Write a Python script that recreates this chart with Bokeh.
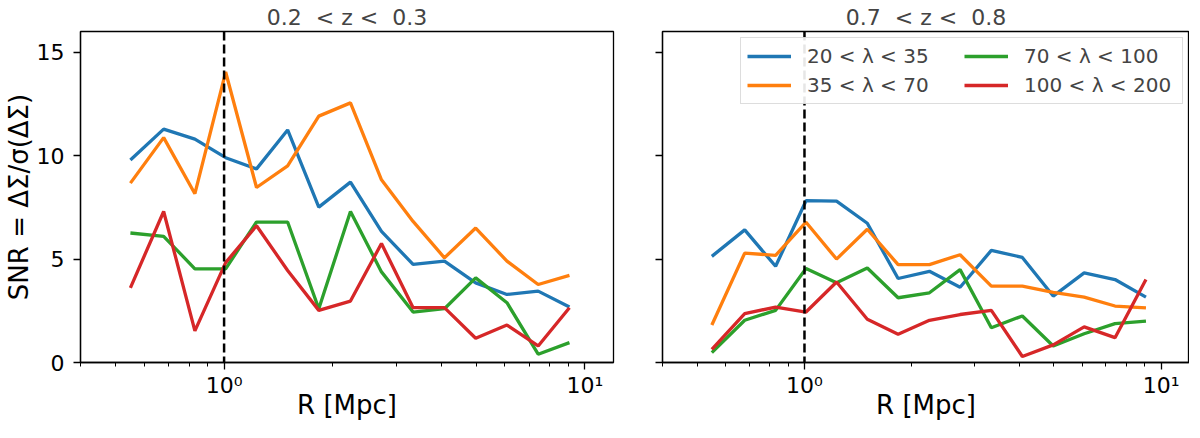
from bokeh.plotting import figure
from bokeh.layouts import row
from bokeh.models import Range1d, FixedTicker, Span, Legend, LegendItem
from bokeh.embed import file_html
from bokeh.resources import INLINE

# radial bins [Mpc]
R = [0.55, 0.68, 0.83, 1.01, 1.23, 1.50, 1.83, 2.24, 2.73, 3.34, 4.08, 4.98, 6.08, 7.42, 9.06]

# 0.2 < z < 0.3
low_l1 = [9.79, 11.28, 10.80, 9.90, 9.36, 11.24, 7.51, 8.72, 6.34, 4.74, 4.90, 3.85, 3.29, 3.45, 2.68]
low_l2 = [8.67, 10.87, 8.16, 14.04, 8.46, 9.50, 11.91, 12.55, 8.83, 6.82, 5.06, 6.50, 4.90, 3.77, 4.21]
low_l3 = [6.26, 6.10, 4.53, 4.53, 6.79, 6.79, 2.60, 7.30, 4.38, 2.44, 2.60, 4.09, 2.89, 0.40, 0.96]
low_l4 = [3.61, 7.30, 1.53, 4.83, 6.61, 4.45, 2.52, 2.97, 5.75, 2.65, 2.65, 1.17, 1.81, 0.80, 2.65]

# 0.7 < z < 0.8
high_l1 = [5.13, 6.41, 4.65, 7.82, 7.80, 6.73, 4.06, 4.41, 3.64, 5.42, 5.08, 3.21, 4.33, 4.01, 3.16]
high_l2 = [1.81, 5.29, 5.18, 6.78, 5.00, 6.44, 4.73, 4.73, 5.21, 3.69, 3.69, 3.39, 3.16, 2.73, 2.64]
high_l3 = [0.48, 2.04, 2.52, 4.54, 3.85, 4.57, 3.13, 3.37, 4.49, 1.68, 2.25, 0.80, 1.39, 1.88, 2.00]
high_l4 = [0.64, 2.36, 2.68, 2.44, 3.89, 2.09, 1.37, 2.04, 2.32, 2.52, 0.29, 0.85, 1.72, 1.20, 4.01]

labels = ["20 < λ < 35", "35 < λ < 70", "70 < λ < 100", "100 < λ < 200"]
colors = ["#1f77b4", "#ff7f0e", "#2ca02c", "#d62728"]
titles = ["0.2\u00a0\u00a0<\u00a0z\u00a0<\u00a0\u00a00.3", "0.7\u00a0\u00a0<\u00a0z\u00a0<\u00a0\u00a00.8"]

x_major = [1, 10]
x_minor = [0.4, 0.5, 0.6, 0.7, 0.8, 0.9, 2, 3, 4, 5, 6, 7, 8, 9]
y_major = [0, 5, 10, 15]

FONT = "DejaVu Sans"


def make_panel(title, series, frame_w, border_left, border_right, show_ylabels):
    p = figure(frame_width=frame_w, height=422, x_axis_type="log",
               x_range=Range1d(0.4, 12), y_range=Range1d(0, 16),
               title=title, toolbar_location=None, output_backend="svg",
               min_border_left=border_left, min_border_right=border_right,
               min_border_top=0, min_border_bottom=0)
    p.title.text_font = FONT
    p.title.text_font_size = "22px"
    p.title.text_font_style = "normal"
    p.title.align = "center"
    p.title.standoff = 4
    p.grid.visible = False
    p.outline_line_color = "black"
    p.outline_line_width = 1.3
    p.outline_line_alpha = 1.0

    p.xaxis.ticker = FixedTicker(ticks=x_major, minor_ticks=x_minor)
    p.xaxis.major_label_overrides = {1: "10⁰", 10: "10¹"}
    p.yaxis.ticker = FixedTicker(ticks=y_major)
    if not show_ylabels:
        p.yaxis.major_label_overrides = {v: "" for v in y_major}
    for ax in (p.xaxis, p.yaxis):
        ax.axis_line_color = "black"
        ax.axis_line_width = 1.3
        ax.major_tick_line_color = "black"
        ax.major_tick_line_width = 1.3
        ax.minor_tick_line_color = "black"
        ax.major_tick_out = 7
        ax.major_tick_in = 0
        ax.minor_tick_out = 4
        ax.minor_tick_in = 0
        ax.major_label_text_font = FONT
        ax.major_label_text_font_size = "22px"
        ax.major_label_text_color = "black"
        ax.axis_label_text_font = FONT
        ax.axis_label_text_font_size = "26px"
        ax.axis_label_text_font_style = "normal"
        ax.axis_label_text_color = "black"
    p.yaxis.major_label_standoff = 9
    p.xaxis.major_label_standoff = 3
    p.yaxis.minor_tick_out = 0
    p.xaxis.axis_label = "R [Mpc]"
    p.xaxis.axis_label_standoff = -11
    if show_ylabels:
        p.yaxis.axis_label = "SNR = ΔΣ/σ(ΔΣ)"
        p.yaxis.axis_label_standoff = 0

    p.add_layout(Span(location=1, dimension="height", line_color="black",
                      line_width=2.5, line_dash="9 4"))

    rends = []
    for ys, c in zip(series, colors):
        rends.append(p.line(R, ys, line_color=c, line_width=3.3))
    return p, rends


p1, _ = make_panel(titles[0], [low_l1, low_l2, low_l3, low_l4], 533, 75, 5, True)
p2, rends = make_panel(titles[1], [high_l1, high_l2, high_l3, high_l4], 527, 44, 0, False)

legend = Legend(items=[LegendItem(label=l, renderers=[r]) for l, r in zip(labels, rends)],
                location="top_right", ncols=2, margin=6, padding=6, spacing=5,
                glyph_width=44, glyph_height=20, label_height=20, label_width=152,
                label_standoff=16,
                label_text_font=FONT, label_text_font_size="20px",
                border_line_color="#bbbbbb", border_line_width=1.2,
                background_fill_color="white", background_fill_alpha=0.9)
p2.add_layout(legend)

layout = row(p1, p2)
open("out.html", "w").write(file_html(layout, INLINE))
